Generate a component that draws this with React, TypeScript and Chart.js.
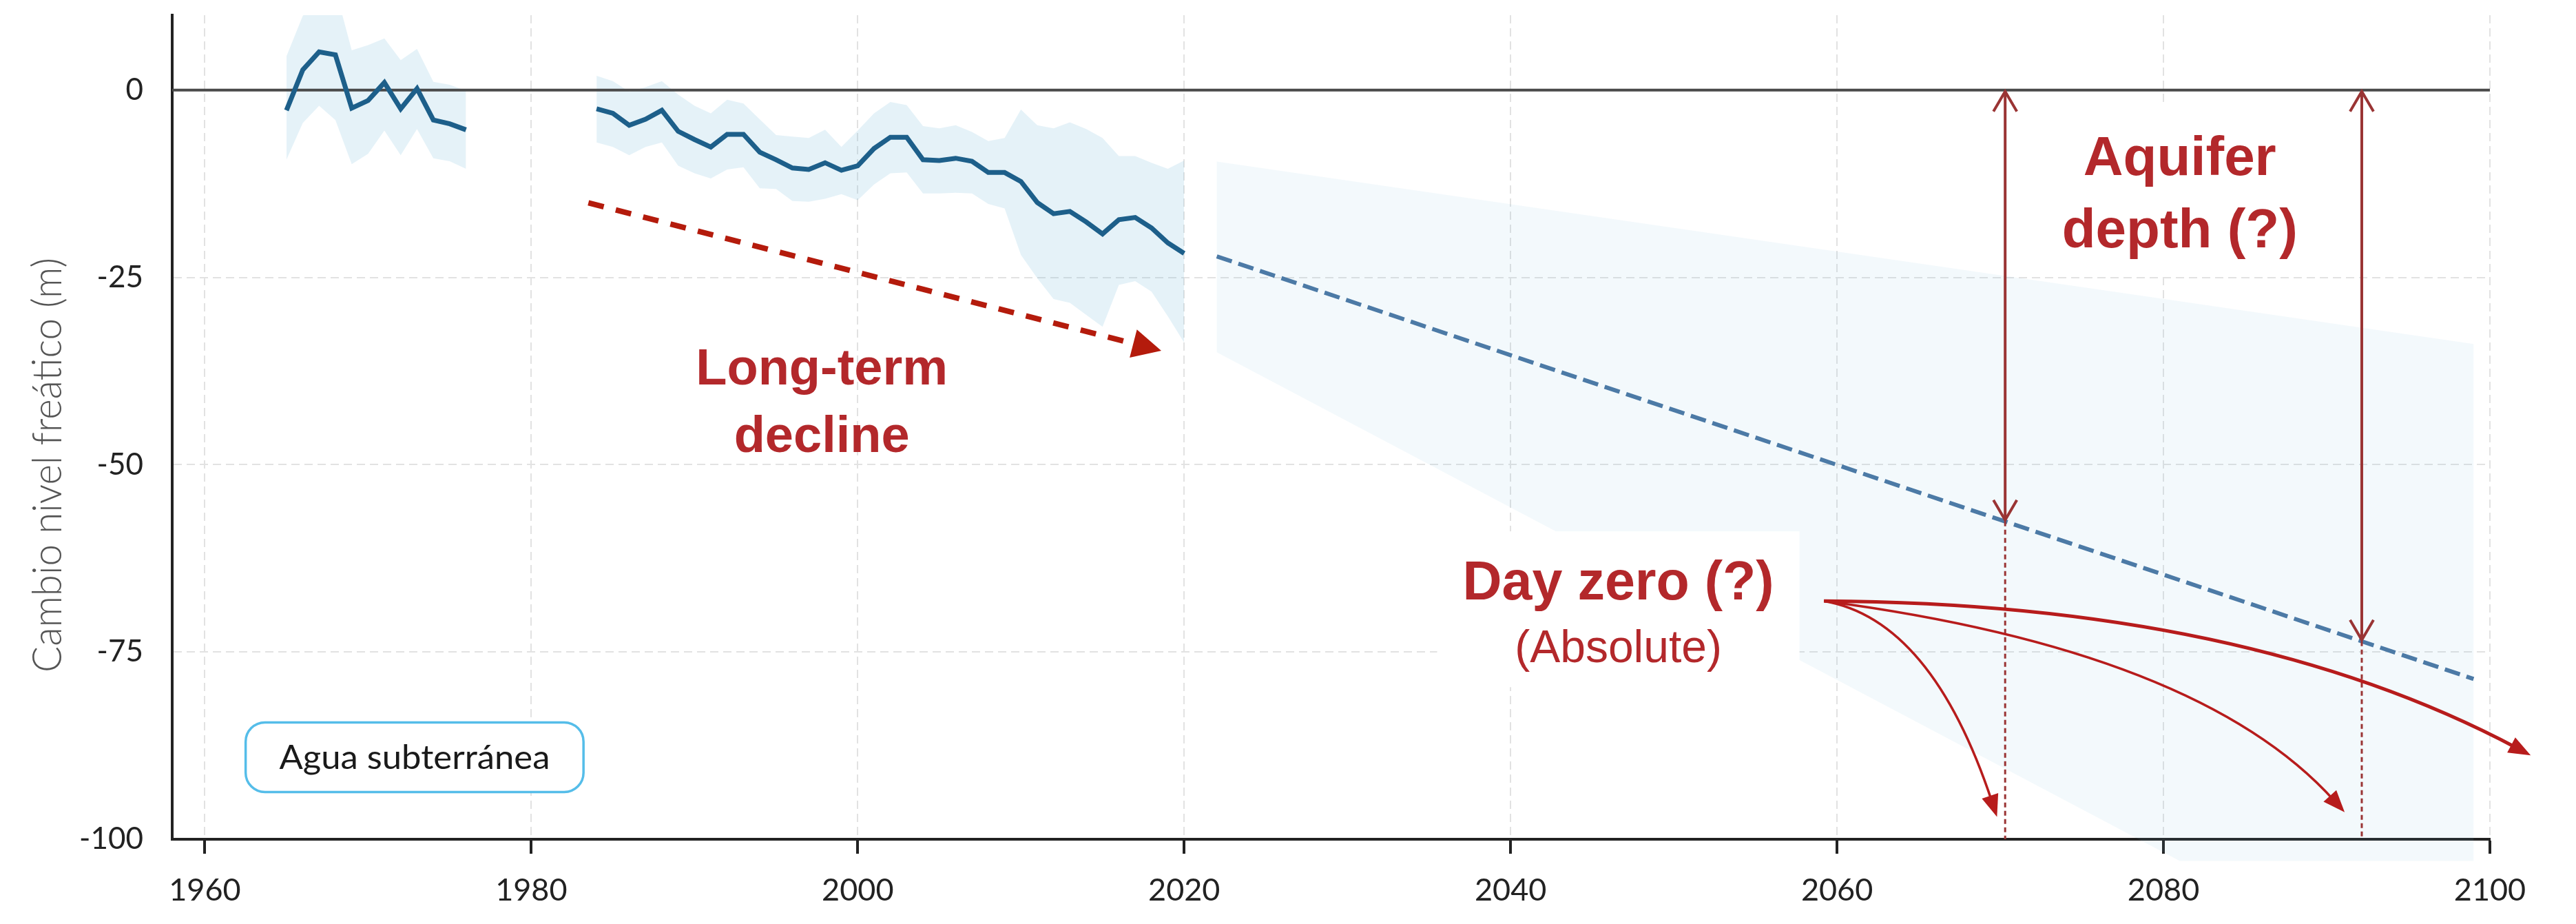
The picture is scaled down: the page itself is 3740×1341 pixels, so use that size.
import React, { useEffect, useRef } from "react";
import { Chart, registerables } from "chart.js";

Chart.register(...registerables);

// ---------------- data ----------------
const X_TICKS = [1960, 1980, 2000, 2020, 2040, 2060, 2080, 2100];
const Y_TICKS = [-100, -75, -50, -25, 0];

const YEARS_EARLY = [1965, 1966, 1967, 1968, 1969, 1970, 1971, 1972, 1973, 1974, 1975, 1976];
const LEVEL_EARLY = [-2.7, 2.7, 5.1, 4.7, -2.4, -1.4, 1.0, -2.5, 0.2, -4.0, -4.5, -5.3];
const UPPER_EARLY = [4.5, 9.9, 12.0, 13.5, 5.3, 6.0, 6.9, 4.0, 5.5, 1.1, 0.7, -0.1];
const LOWER_EARLY = [-9.3, -4.4, -2.1, -4.0, -9.9, -8.5, -5.4, -8.7, -5.2, -9.1, -9.5, -10.5];

const YEARS_LATE = [
  1984, 1985, 1986, 1987, 1988, 1989, 1990, 1991, 1992, 1993,
  1994, 1995, 1996, 1997, 1998, 1999, 2000, 2001, 2002, 2003,
  2004, 2005, 2006, 2007, 2008, 2009, 2010, 2011, 2012, 2013,
  2014, 2015, 2016, 2017, 2018, 2019, 2020,
];
const LEVEL_LATE = [
  -2.5, -3.1, -4.7, -3.9, -2.7, -5.5, -6.6, -7.6, -5.9, -5.9,
  -8.3, -9.3, -10.4, -10.6, -9.7, -10.7, -10.1, -7.8, -6.3, -6.3,
  -9.3, -9.4, -9.1, -9.5, -11.0, -11.0, -12.2, -15.0, -16.5, -16.2,
  -17.6, -19.2, -17.3, -17.0, -18.4, -20.4, -21.8,
];
const UPPER_LATE = [
  1.9, 1.2, -0.2, 0.4, 1.2, -0.6, -2.1, -3.1, -1.3, -1.8,
  -3.9, -6.0, -6.2, -6.4, -5.3, -7.6, -5.4, -3.1, -1.6, -2.0,
  -4.8, -5.1, -4.7, -5.6, -6.8, -6.4, -2.6, -4.7, -5.1, -4.3,
  -5.2, -6.4, -8.8, -8.8, -9.7, -10.5, -9.4,
];
const LOWER_LATE = [
  -7.0, -7.6, -8.7, -7.6, -7.0, -10.1, -11.1, -11.8, -10.6, -10.3,
  -13.1, -13.2, -14.8, -14.9, -14.5, -13.9, -14.7, -12.6, -11.1, -11.0,
  -13.8, -13.8, -13.7, -13.8, -15.2, -15.8, -22.0, -25.1, -27.9, -28.4,
  -30.0, -31.6, -26.0, -25.5, -26.9, -30.2, -33.7,
];

const PROJ_YEARS = [2022, 2099];
const PROJ_LEVEL = [-22.2, -78.6];
const PROJ_BAND_YEARS = [2022, 2081, 2099];
const PROJ_BAND_UPPER = [-9.55, -28.2, -33.9];
const PROJ_BAND_LOWER = [-35.0, -102.9, -102.9];

const ZERO_YEARS = [1958, 2100];
const ZERO_LEVEL = [0, 0];

// annotation anchors, in data coordinates
const DEPTH_ARROW_YEARS = [2070.3, 2092.15];
const DECLINE_FROM = [1983.5, -15.06];
const DECLINE_TO = [2018.6, -34.8];
const DAYZERO_ORIGIN = [2059.2, -68.2];
const DAYZERO_TIP_YEARS = [2069.8, 2091.1, 2102.5];
const DAYZERO_TIP_LEVEL = [-97.0, -96.4, -88.8];
const DAYZERO_BEND_YEARS = [2065.8, 2082.2, 2085.0];
const DAYZERO_BEND_LEVEL = [-70.7, -74.8, -68.5];

// ---------------- styles ----------------
const LINE_BLUE = "#1d5f8a";
const PROJ_BLUE = "#4c7aa6";
const BAND_HIST = "rgba(120,190,218,0.195)";
const BAND_PROJ = "rgba(120,190,218,0.085)";
const RED_TEXT = "#b3282b";
const RED_DASH = "#b41b0c";
const RED_ARROW = "#b71c1c";
const BROWN_RED = "#9a3434";
const GRID = "#e2e2e2";
const AXIS = "#222222";

const pts = (xs: number[], ys: number[]) => xs.map((x, i) => ({ x, y: ys[i] }));

function interp(xs: number[], ys: number[], v: number) {
  for (let i = 0; i < xs.length - 1; i++) {
    if (v >= xs[i] && v <= xs[i + 1]) {
      const t = (v - xs[i]) / (xs[i + 1] - xs[i]);
      return ys[i] + t * (ys[i + 1] - ys[i]);
    }
  }
  return v < xs[0] ? ys[0] : ys[ys.length - 1];
}

function arrowHead(ctx: CanvasRenderingContext2D, tx: number, ty: number, ang: number, len: number, width: number, color: string) {
  const bx = tx - len * Math.cos(ang);
  const by = ty - len * Math.sin(ang);
  const nx = (-Math.sin(ang) * width) / 2;
  const ny = (Math.cos(ang) * width) / 2;
  ctx.save();
  ctx.fillStyle = color;
  ctx.beginPath();
  ctx.moveTo(tx, ty);
  ctx.lineTo(bx + nx, by + ny);
  ctx.lineTo(bx - nx, by - ny);
  ctx.closePath();
  ctx.fill();
  ctx.restore();
}

function chevron(ctx: CanvasRenderingContext2D, tx: number, ty: number, dir: number, len: number, half: number) {
  ctx.beginPath();
  ctx.moveTo(tx - half, ty + dir * len);
  ctx.lineTo(tx, ty);
  ctx.lineTo(tx + half, ty + dir * len);
  ctx.stroke();
}

const annotationPlugin = {
  id: "annotations",
  beforeDatasetsDraw(chart: any) {
    const { ctx, scales } = chart;
    const X = (v: number) => scales.x.getPixelForValue(v);
    const Y = (v: number) => scales.y.getPixelForValue(v);
    ctx.save();
    ctx.beginPath();
    PROJ_BAND_YEARS.forEach((yr, i) => {
      if (i === 0) ctx.moveTo(X(yr), Y(PROJ_BAND_UPPER[i]));
      else ctx.lineTo(X(yr), Y(PROJ_BAND_UPPER[i]));
    });
    for (let i = PROJ_BAND_YEARS.length - 1; i >= 0; i--) {
      ctx.lineTo(X(PROJ_BAND_YEARS[i]), Y(PROJ_BAND_LOWER[i]));
    }
    ctx.closePath();
    ctx.fillStyle = BAND_PROJ;
    ctx.fill();
    ctx.restore();
  },
  afterDatasetsDraw(chart: any) {
    const { ctx, scales } = chart;
    const X = (v: number) => scales.x.getPixelForValue(v);
    const Y = (v: number) => scales.y.getPixelForValue(v);

    ctx.save();
    // white backgrounds behind the labels
    ctx.fillStyle = "#ffffff";
    ctx.fillRect(X(2035.5), Y(-58.9), X(2057.7) - X(2035.5), Y(-79.7) - Y(-58.9));
    ctx.fillRect(X(2073.6), Y(-1.8), X(2088.4) - X(2073.6), Y(-24.3) - Y(-1.8));

    // dotted verticals from projection down to the axis
    ctx.strokeStyle = BROWN_RED;
    ctx.lineWidth = 3;
    ctx.setLineDash([7, 5]);
    DEPTH_ARROW_YEARS.forEach((yr) => {
      const lv = interp(PROJ_YEARS, PROJ_LEVEL, yr);
      ctx.beginPath();
      ctx.moveTo(X(yr), Y(lv));
      ctx.lineTo(X(yr), Y(-100));
      ctx.stroke();
    });
    ctx.setLineDash([]);

    // double arrows "aquifer depth"
    ctx.lineWidth = 4;
    ctx.strokeStyle = BROWN_RED;
    DEPTH_ARROW_YEARS.forEach((yr) => {
      const lv = interp(PROJ_YEARS, PROJ_LEVEL, yr);
      const px = X(yr);
      const top = Y(0);
      const bot = Y(lv);
      ctx.beginPath();
      ctx.moveTo(px, top + 2);
      ctx.lineTo(px, bot - 2);
      ctx.stroke();
      chevron(ctx, px, top + 2, 1, 29, 17);
      chevron(ctx, px, bot - 2, -1, 29, 17);
    });

    // curved "day zero" arrows
    const sx = X(DAYZERO_ORIGIN[0]);
    const sy = Y(DAYZERO_ORIGIN[1]);
    ctx.strokeStyle = RED_ARROW;
    DAYZERO_TIP_YEARS.forEach((yr, i) => {
      const ex = X(yr);
      const ey = Y(DAYZERO_TIP_LEVEL[i]);
      const cx = X(DAYZERO_BEND_YEARS[i]);
      const cy = Y(DAYZERO_BEND_LEVEL[i]);
      const ang = Math.atan2(ey - cy, ex - cx);
      const head = 32;
      const stop = head * 0.7;
      ctx.lineWidth = i === 2 ? 5 : 3.5;
      ctx.beginPath();
      ctx.moveTo(sx, sy);
      ctx.quadraticCurveTo(cx, cy, ex - stop * Math.cos(ang), ey - stop * Math.sin(ang));
      ctx.stroke();
      arrowHead(ctx, ex, ey, ang, head, 25, RED_ARROW);
    });

    // long-term decline dashed arrow
    {
      const x0 = X(DECLINE_FROM[0]);
      const y0 = Y(DECLINE_FROM[1]);
      const x1 = X(DECLINE_TO[0]);
      const y1 = Y(DECLINE_TO[1]);
      const ang = Math.atan2(y1 - y0, x1 - x0);
      const head = 42;
      ctx.strokeStyle = RED_DASH;
      ctx.lineWidth = 8;
      ctx.setLineDash([23, 18]);
      ctx.beginPath();
      ctx.moveTo(x0, y0);
      ctx.lineTo(x1 - head * Math.cos(ang), y1 - head * Math.sin(ang));
      ctx.stroke();
      ctx.setLineDash([]);
      arrowHead(ctx, x1, y1, ang, head, 42, RED_DASH);
    }

    // red labels
    ctx.fillStyle = RED_TEXT;
    ctx.textAlign = "center";
    ctx.textBaseline = "alphabetic";
    ctx.font = "bold 74px 'Liberation Sans', Arial, sans-serif";
    ctx.fillText("Long-term", X(1997.8), Y(-39.3));
    ctx.fillText("decline", X(1997.8), Y(-48.3));
    ctx.font = "bold 80px 'Liberation Sans', Arial, sans-serif";
    ctx.fillText("Aquifer", X(2081.0), Y(-11.3));
    ctx.fillText("depth (?)", X(2081.0), Y(-21.0));
    ctx.font = "bold 79px 'Liberation Sans', Arial, sans-serif";
    ctx.fillText("Day zero (?)", X(2046.6), Y(-68.0));
    ctx.font = "66px 'Liberation Sans', Arial, sans-serif";
    ctx.fillText("(Absolute)", X(2046.6), Y(-76.4));

    // "Agua subterránea" label box
    {
      const bx0 = X(1962.5);
      const bx1 = X(1983.2);
      const by0 = Y(-84.4);
      const by1 = Y(-93.7);
      ctx.beginPath();
      ctx.roundRect(bx0, by0, bx1 - bx0, by1 - by0, 28);
      ctx.fillStyle = "#ffffff";
      ctx.fill();
      ctx.lineWidth = 3.5;
      ctx.strokeStyle = "#55bde9";
      ctx.stroke();
      ctx.font = "48px Lato, sans-serif";
      const label = "Agua subterránea";
      const w = ctx.measureText(label).width;
      ctx.save();
      ctx.translate((bx0 + bx1) / 2, (by0 + by1) / 2 + 17);
      ctx.scale(Math.min(1.15, 393 / w), 1);
      ctx.fillStyle = "#1a1a1a";
      ctx.textAlign = "center";
      ctx.fillText(label, 0, 0);
      ctx.restore();
    }

    // y axis title
    {
      const title = "Cambio nivel freático (m)";
      ctx.font = "300 59px Lato, sans-serif";
      const w = ctx.measureText(title).width;
      ctx.save();
      ctx.translate(89, 675);
      ctx.rotate(-Math.PI / 2);
      ctx.scale(602 / w, 1);
      ctx.fillStyle = "#555555";
      ctx.textAlign = "center";
      ctx.textBaseline = "alphabetic";
      ctx.fillText(title, 0, 0);
      ctx.restore();
    }
    ctx.restore();
  },
};

export default function App() {
  const canvasRef = useRef<HTMLCanvasElement | null>(null);

  useEffect(() => {
    const canvas = canvasRef.current;
    if (!canvas) return;
    const noPoint = { pointRadius: 0, pointHoverRadius: 0, tension: 0 };
    const chart = new Chart(canvas, {
      type: "line",
      data: {
        datasets: [
          { label: "upperEarly", data: pts(YEARS_EARLY, UPPER_EARLY), borderWidth: 0, fill: "+1", backgroundColor: BAND_HIST, order: 6, ...noPoint },
          { label: "lowerEarly", data: pts(YEARS_EARLY, LOWER_EARLY), borderWidth: 0, fill: false, order: 6, ...noPoint },
          { label: "upperLate", data: pts(YEARS_LATE, UPPER_LATE), borderWidth: 0, fill: "+1", backgroundColor: BAND_HIST, order: 6, ...noPoint },
          { label: "lowerLate", data: pts(YEARS_LATE, LOWER_LATE), borderWidth: 0, fill: false, order: 6, ...noPoint },
          { label: "zero", data: pts(ZERO_YEARS, ZERO_LEVEL), borderColor: "#4a4a4a", borderWidth: 4, fill: false, order: 4, ...noPoint },
          { label: "projection", data: pts(PROJ_YEARS, PROJ_LEVEL), borderColor: PROJ_BLUE, borderWidth: 6, borderDash: [23, 10], fill: false, order: 3, ...noPoint },
          { label: "levelEarly", data: pts(YEARS_EARLY, LEVEL_EARLY), borderColor: LINE_BLUE, borderWidth: 7, fill: false, order: 1, ...noPoint },
          { label: "levelLate", data: pts(YEARS_LATE, LEVEL_LATE), borderColor: LINE_BLUE, borderWidth: 7, fill: false, order: 1, ...noPoint },
        ],
      },
      options: {
        responsive: false,
        animation: false,
        devicePixelRatio: 1,
        events: [],
        layout: { padding: { left: 0, top: 22, right: 125, bottom: 0 } },
        plugins: { legend: { display: false }, tooltip: { enabled: false } },
        scales: {
          x: {
            type: "linear",
            min: 1958,
            max: 2100,
            afterBuildTicks: (s: any) => {
              s.ticks = X_TICKS.map((v) => ({ value: v }));
            },
            afterFit: (s: any) => {
              s.height = 123;
              s.paddingLeft = 0;
              s.paddingRight = 0;
            },
            ticks: {
              autoSkip: false,
              maxRotation: 0,
              padding: 26,
              color: AXIS,
              font: { family: "Lato, sans-serif", size: 45 },
              callback: (v: any) => String(v),
            },
            grid: { color: GRID, lineWidth: 2, drawTicks: true, tickLength: 21, tickWidth: 4, tickColor: AXIS, tickBorderDash: [] },
            border: { display: true, color: AXIS, width: 4, dash: [12, 7] },
          },
          y: {
            type: "linear",
            min: -100,
            max: 10,
            afterBuildTicks: (s: any) => {
              s.ticks = Y_TICKS.map((v) => ({ value: v }));
            },
            afterFit: (s: any) => {
              s.width = 250;
              s.paddingTop = 0;
              s.paddingBottom = 0;
            },
            ticks: {
              padding: 42,
              color: AXIS,
              font: { family: "Lato, sans-serif", size: 44 },
              callback: (v: any) => String(v),
            },
            grid: { color: GRID, lineWidth: 2, drawTicks: false },
            border: { display: true, color: AXIS, width: 4, dash: [12, 7] },
          },
        },
      },
      plugins: [annotationPlugin],
    } as any);
    return () => chart.destroy();
  }, []);

  return (
    <div style={{ position: "absolute", left: 0, top: 0, width: 3740, height: 1341, background: "#ffffff" }}>
      <canvas ref={canvasRef} width={3740} height={1341} style={{ display: "block" }} />
    </div>
  );
}
